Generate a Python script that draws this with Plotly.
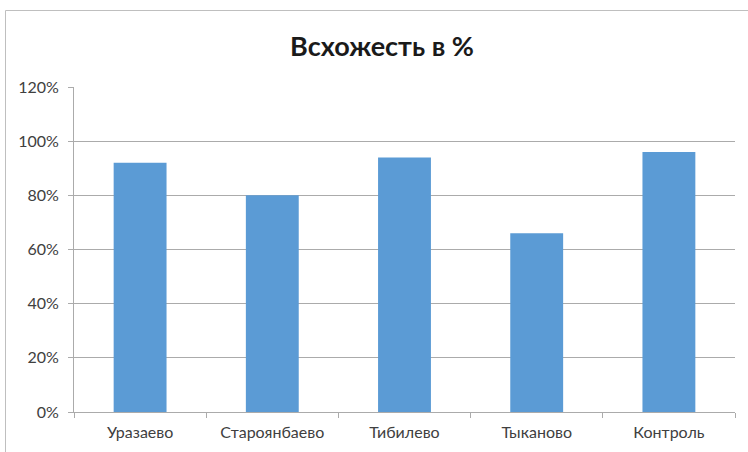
import plotly.graph_objects as go

categories = ["Уразаево", "Староянбаево", "Тибилево", "Тыканово", "Контроль"]
values = [0.92, 0.80, 0.94, 0.66, 0.96]
y_ticks = [0, 0.2, 0.4, 0.6, 0.8, 1.0, 1.2]
y_tick_labels = ["0%", "20%", "40%", "60%", "80%", "100%", "120%"]
title_text = "Всхожесть в %"

W, H = 748, 452
L, R, T, B = 74, 13, 87, 40
pw, ph = W - L - R, H - T - B

FONT = "Lato, 'Open Sans', sans-serif"
GRID = "#ABABAB"

fig = go.Figure(
    go.Bar(x=categories, y=values, marker=dict(color="#5B9BD5", line=dict(width=0)))
)

def px_x(x):
    return (x - L) / pw

def px_y(y):
    return (H - B - y) / ph

fig.update_layout(
    width=W,
    height=H,
    margin=dict(l=L, r=R, t=T, b=B),
    paper_bgcolor="white",
    plot_bgcolor="white",
    bargap=0.6,
    showlegend=False,
    title=dict(
        text="<b>" + title_text + "</b>",
        x=382 / W, xref="container", xanchor="center",
        y=1 - 47 / H, yref="container", yanchor="middle",
        font=dict(family=FONT, size=27, color="#1A1A1A"),
    ),
    font=dict(family=FONT, size=16, color="#404040"),
    xaxis=dict(
        type="category",
        showline=True, linecolor=GRID, linewidth=1,
        ticks="outside", tickson="boundaries", ticklen=5, tickcolor=GRID,
        showgrid=False,
        ticklabelstandoff=6,
        tickfont=dict(family=FONT, size=16, color="#404040"),
    ),
    yaxis=dict(
        range=[0, 1.2],
        tickvals=y_ticks, ticktext=y_tick_labels,
        showline=True, linecolor=GRID, linewidth=1,
        ticks="outside", ticklen=5, tickcolor=GRID,
        showgrid=True, gridcolor=GRID, gridwidth=1,
        zeroline=False,
        ticklabelstandoff=6,
        tickfont=dict(family=FONT, size=16, color="#404040"),
    ),
    shapes=[
        dict(
            type="rect", xref="paper", yref="paper",
            x0=px_x(5.5), x1=px_x(770), y0=px_y(470), y1=px_y(10.5),
            line=dict(color="#BFBFBF", width=1), fillcolor="rgba(0,0,0,0)",
            layer="below",
        )
    ],
)

fig.write_html("out.html")
